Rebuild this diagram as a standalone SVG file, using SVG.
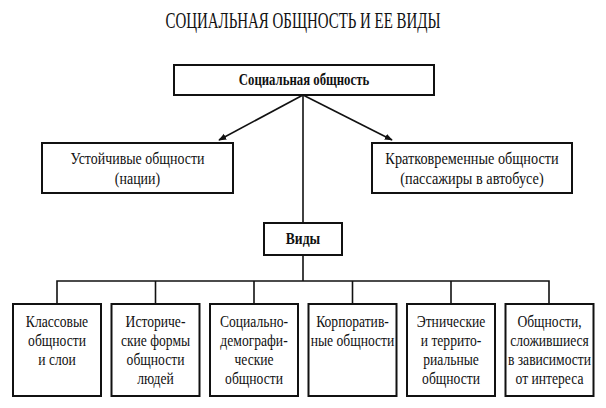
<svg xmlns="http://www.w3.org/2000/svg" width="606" height="408" viewBox="0 0 606 408">
<style>
.box{fill:#fff;stroke:#111;stroke-width:2}
.ln{fill:none;stroke:#111;stroke-width:1.6}
text{font-family:"Liberation Serif","Times New Roman",serif;fill:#111;text-anchor:middle}
.t{font-size:17px}
.b{font-size:17px;font-weight:bold}
.h{font-size:23px}
</style>
<defs>
<marker id="ar" viewBox="0 0 10 10" refX="9" refY="5" markerWidth="8" markerHeight="8" markerUnits="userSpaceOnUse" orient="auto">
<path d="M0,1 L10,5 L0,9 Z" fill="#111"/>
</marker>
</defs>
<rect width="606" height="408" fill="#fff"/>
<text class="h" transform="translate(303,28) scale(0.65,1)">СОЦИАЛЬНАЯ ОБЩНОСТЬ И ЕЕ ВИДЫ</text>
<g id="connectors">
<line class="ln" x1="303" y1="95" x2="219" y2="140" marker-end="url(#ar)"/>
<line class="ln" x1="303" y1="95" x2="392" y2="140" marker-end="url(#ar)"/>
<line class="ln" x1="303" y1="95" x2="303" y2="223"/>
<line class="ln" x1="303" y1="255" x2="303" y2="281"/>
<polyline class="ln" points="57,304 57,281 549,281 549,304"/>
<line class="ln" x1="155.5" y1="281" x2="155.5" y2="304"/>
<line class="ln" x1="254" y1="281" x2="254" y2="304"/>
<line class="ln" x1="352.5" y1="281" x2="352.5" y2="304"/>
<line class="ln" x1="451" y1="281" x2="451" y2="304"/>
</g>
<g id="n-social">
<rect class="box" x="174" y="65" width="260" height="30"/>
<text class="b" transform="translate(304,85) scale(0.75,1)">Социальная общность</text>
</g>
<g id="n-stable">
<rect class="box" x="42" y="143" width="191" height="50"/>
<text class="t" transform="translate(137.5,164) scale(0.82,1)">Устойчивые общности</text>
<text class="t" transform="translate(137.5,184) scale(0.82,1)">(нации)</text>
</g>
<g id="n-short">
<rect class="box" x="372" y="143" width="200" height="50"/>
<text class="t" transform="translate(472,164) scale(0.84,1)">Кратковременные общности</text>
<text class="t" transform="translate(472,184) scale(0.84,1)">(пассажиры в автобусе)</text>
</g>
<g id="n-types">
<rect class="box" x="264" y="223" width="78" height="32"/>
<text class="b" transform="translate(303,244) scale(0.8,1)">Виды</text>
</g>
<g id="n-class">
<rect class="box" x="13" y="304" width="88" height="92"/>
<text class="t" transform="translate(57,327) scale(0.8,1)">Классовые</text>
<text class="t" transform="translate(57,346) scale(0.8,1)">общности</text>
<text class="t" transform="translate(57,365) scale(0.8,1)">и слои</text>
</g>
<g id="n-hist">
<rect class="box" x="111.5" y="304" width="88" height="92"/>
<text class="t" transform="translate(155.5,327) scale(0.8,1)">Историче-</text>
<text class="t" transform="translate(155.5,346) scale(0.8,1)">ские формы</text>
<text class="t" transform="translate(155.5,365) scale(0.8,1)">общности</text>
<text class="t" transform="translate(155.5,384) scale(0.8,1)">людей</text>
</g>
<g id="n-demo">
<rect class="box" x="210" y="304" width="88" height="92"/>
<text class="t" transform="translate(254,327) scale(0.8,1)">Социально-</text>
<text class="t" transform="translate(254,346) scale(0.8,1)">демографи-</text>
<text class="t" transform="translate(254,365) scale(0.8,1)">ческие</text>
<text class="t" transform="translate(254,384) scale(0.8,1)">общности</text>
</g>
<g id="n-corp">
<rect class="box" x="308.5" y="304" width="88" height="92"/>
<text class="t" transform="translate(352.5,327) scale(0.8,1)">Корпоратив-</text>
<text class="t" transform="translate(352.5,346) scale(0.8,1)">ные общности</text>
</g>
<g id="n-ethnic">
<rect class="box" x="407" y="304" width="88" height="92"/>
<text class="t" transform="translate(451,327) scale(0.8,1)">Этнические</text>
<text class="t" transform="translate(451,346) scale(0.8,1)">и террито-</text>
<text class="t" transform="translate(451,365) scale(0.8,1)">риальные</text>
<text class="t" transform="translate(451,384) scale(0.8,1)">общности</text>
</g>
<g id="n-interest">
<rect class="box" x="505.5" y="304" width="88" height="92"/>
<text class="t" transform="translate(549.5,327) scale(0.8,1)">Общности,</text>
<text class="t" transform="translate(549.5,346) scale(0.8,1)">сложившиеся</text>
<text class="t" transform="translate(549.5,365) scale(0.8,1)">в зависимости</text>
<text class="t" transform="translate(549.5,384) scale(0.8,1)">от интереса</text>
</g>
</svg>
